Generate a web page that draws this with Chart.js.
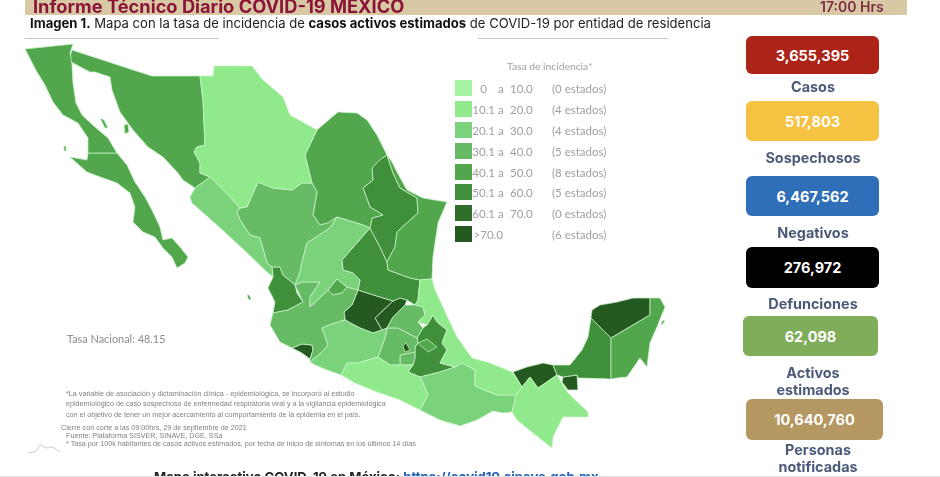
<!DOCTYPE html>
<html lang="es">
<head>
<meta charset="utf-8">
<title>Informe Técnico Diario COVID-19 MEXICO</title>
<script src="https://cdn.jsdelivr.net/npm/chart.js@4"></script>
<style>
  html, body { margin: 0; padding: 0; background: #fff; overflow: hidden; }
  #page { position: relative; width: 940px; height: 477px; overflow: hidden; font-family: Inter, sans-serif; }
  #mapa { position: absolute; left: 0; top: 0; filter: blur(.3px); }
  #page > div, #page > span { position: absolute; white-space: nowrap; }
  .band { left: 25px; top: 0; width: 882px; height: 15px; background: #d9c8a4; }
  .rule { top: 38px; height: 1px; background: #c6c6c6; }
  .card { border-radius: 6px; color: #fff; font-weight: 700; font-size: 14.5px; text-align: center; display: flex; align-items: center; justify-content: center; }
  .label { color: #4b5a78; font-weight: 700; font-size: 14.4px; text-align: center; transform: translate(-50%, -50%); }
  .ley { color: #a0a0a0; font-family: Lato, sans-serif; font-size: 11.5px; transform: translateY(-50%); filter: blur(.35px); }
  .nota { color: #808080; font-family: "Liberation Sans", sans-serif; font-size: 7.2px; transform: translateY(-50%); filter: blur(.35px); }
</style>
</head>
<body>
<div id="page">
  <canvas id="mapa" width="940" height="477"></canvas>
</div>
<script>
// tasa de incidencia, clases de la leyenda
const rangoDesde = ['0', '10.1', '20.1', '30.1', '40.1', '50.1', '60.1', '>70.0'];
const rangoHasta = ['10.0', '20.0', '30.0', '40.0', '50.0', '60.0', '70.0', ''];
const rangoEstados = ['(0 estados)', '(4 estados)', '(4 estados)', '(5 estados)', '(8 estados)', '(5 estados)', '(0 estados)', '(6 estados)'];
const rangoColor = ['#a6f4a1', '#90ea8c', '#7ad27b', '#66bb64', '#52a74d', '#408f3a', '#2f6f29', '#245a1f'];

// tarjetas
const tarjetaValor = ['3,655,395', '517,803', '6,467,562', '276,972', '62,098', '10,640,760'];
const tarjetaNombre = ['Casos', 'Sospechosos', 'Negativos', 'Defunciones', 'Activos\nestimados', 'Personas\nnotificadas'];
const tarjetaColor = ['#ad2317', '#f5c242', '#2f6eb8', '#000000', '#7fad5a', '#b59762'];

// contornos de los estados, en unidades de los ejes del mapa
const bajaCalifornia = [[25,49],[73,44],[70,53],[72,64],[73,83],[76,103],[82,115],[95,127],[108,138],[117,153],[88,153],[88,138],[78,123],[63,115],[53,102],[45,85],[37,72],[25,49]];
const bajaCaliforniaSur = [[117,153],[127,165],[135,182],[145,197],[152,210],[160,227],[163,240],[172,238],[180,247],[188,257],[185,263],[177,268],[172,257],[163,248],[155,237],[143,232],[133,222],[135,207],[130,193],[117,183],[103,178],[87,172],[70,157],[87,160],[88,153],[117,153]];
const sonora = [[72,50],[152,76],[200,76],[203,100],[205,145],[197,147],[194,152],[200,163],[200,173],[210,177],[195,188],[183,180],[178,173],[163,157],[148,147],[133,130],[120,112],[112,90],[110,77],[95,72],[90,72],[73,63],[69,60],[72,50]];
const chihuahua = [[200,76],[213,76],[214,66],[252,66],[263,80],[283,97],[290,115],[317,130],[305,155],[312,183],[302,183],[292,190],[273,188],[258,182],[247,207],[240,208],[230,197],[218,185],[210,177],[200,173],[200,163],[194,152],[197,147],[205,145],[203,100],[200,76]];
const coahuila = [[305,155],[317,130],[338,112],[357,113],[367,120],[377,135],[387,155],[382,158],[372,168],[373,180],[363,188],[370,207],[383,215],[372,218],[370,228],[363,225],[337,217],[328,223],[320,225],[313,215],[317,192],[312,183],[305,155]];
const nuevoLeon = [[387,155],[393,173],[400,188],[417,198],[418,213],[397,232],[395,247],[387,262],[380,247],[372,232],[370,228],[372,218],[383,215],[370,207],[363,188],[373,180],[372,168],[382,158],[387,155]];
const tamaulipas = [[387,155],[392,162],[397,172],[407,190],[423,198],[447,202],[438,223],[433,257],[432,279],[420,280],[410,278],[388,270],[387,262],[395,247],[397,232],[418,213],[417,198],[400,188],[393,173],[387,155]];
const sinaloa = [[210,177],[218,185],[230,197],[240,208],[237,212],[240,220],[250,235],[260,238],[267,263],[272,267],[273,277],[267,272],[243,249],[217,225],[200,210],[192,203],[190,197],[195,188],[210,177]];
const durango = [[237,212],[240,208],[247,207],[258,182],[273,188],[292,190],[302,183],[312,183],[317,192],[313,215],[320,225],[328,223],[337,217],[330,228],[307,243],[302,262],[300,272],[295,285],[283,275],[280,267],[272,267],[267,263],[260,238],[250,235],[240,220],[237,212]];
const zacatecas = [[302,262],[307,243],[330,228],[337,217],[363,225],[370,228],[342,260],[343,270],[353,273],[360,280],[358,290],[347,287],[337,279],[328,290],[310,307],[310,297],[320,282],[302,282],[295,285],[300,272],[302,262]];
const sanLuisPotosi = [[370,228],[372,232],[380,247],[387,262],[388,270],[410,278],[420,280],[418,300],[415,305],[407,300],[400,298],[393,301],[380,297],[358,290],[360,280],[353,273],[343,270],[342,260],[370,228]];
const nayarit = [[272,267],[280,267],[283,275],[295,285],[297,293],[303,302],[288,310],[273,313],[275,302],[268,288],[273,277],[272,267]];
const jalisco = [[270,325],[273,313],[288,310],[303,302],[295,285],[302,282],[320,282],[310,297],[310,307],[328,290],[333,295],[342,293],[347,287],[358,290],[352,305],[344,312],[345,320],[332,324],[322,328],[328,345],[322,352],[310,362],[310,359],[313,350],[312,345],[302,344],[292,348],[280,342],[270,325]];
const colima = [[292,348],[302,344],[312,345],[313,350],[310,359],[302,353],[292,348]];
const aguascalientes = [[328,290],[337,279],[347,287],[342,293],[333,295],[328,290]];
const michoacan = [[310,362],[322,352],[328,345],[322,328],[332,324],[345,320],[360,328],[373,333],[382,330],[387,328],[385,338],[378,357],[358,363],[347,363],[341,375],[327,370],[315,365],[310,362]];
const guanajuato = [[358,290],[380,297],[393,301],[375,318],[382,330],[373,333],[360,328],[345,320],[344,312],[352,305],[358,290]];
const queretaro = [[393,301],[400,298],[407,300],[405,305],[393,317],[387,328],[382,330],[375,318],[393,301]];
const hidalgo = [[393,317],[405,305],[415,305],[423,307],[425,315],[418,322],[423,328],[417,338],[398,328],[387,328],[393,317]];
const estadoMexico = [[387,328],[398,328],[417,338],[418,343],[415,347],[415,352],[410,353],[400,355],[400,365],[390,365],[378,357],[385,338],[387,328]];
const cdmx = [[403,346],[406,343],[410,350],[405,352],[403,346]];
const morelos = [[400,355],[410,353],[415,352],[415,358],[413,365],[400,365],[400,355]];
const tlaxcala = [[418,343],[427,339],[437,347],[428,352],[418,343]];
const puebla = [[417,338],[423,328],[427,325],[433,315],[437,322],[447,330],[442,343],[447,350],[440,363],[455,367],[440,372],[420,377],[408,372],[413,365],[415,358],[415,347],[418,343],[417,338]];
const veracruz = [[420,280],[432,279],[435,290],[443,307],[457,337],[472,358],[490,363],[512,372],[522,387],[516,395],[497,395],[475,386],[475,370],[462,363],[455,367],[440,363],[447,350],[442,343],[447,330],[437,322],[433,315],[427,325],[418,322],[425,315],[423,307],[415,305],[418,300],[420,280]];
const oaxaca = [[420,377],[423,383],[428,395],[420,410],[440,420],[460,426],[477,420],[493,411],[503,413],[512,412],[516,395],[497,395],[475,386],[475,370],[462,363],[455,367],[440,372],[420,377]];
const guerrero = [[341,375],[347,363],[358,363],[378,357],[390,365],[400,365],[413,365],[408,372],[420,377],[423,383],[428,395],[420,410],[400,400],[377,392],[355,383],[341,375]];
const chiapas = [[516,395],[522,387],[530,377],[538,388],[557,375],[568,393],[588,412],[588,417],[563,417],[553,437],[552,448],[533,433],[517,420],[512,412],[516,395]];
const tabasco = [[513,372],[527,367],[543,363],[553,365],[557,375],[538,388],[530,377],[522,387],[513,372]];
const tabascoEste = [[563,377],[577,375],[578,390],[568,390],[562,382],[563,377]];
const campeche = [[591,318],[611,338],[611,379],[578,378],[577,375],[563,377],[557,375],[553,365],[570,365],[582,350],[588,337],[591,318]];
const yucatan = [[591,318],[592,310],[600,305],[617,302],[633,298],[650,298],[650,315],[611,338],[591,318]];
const quintanaRoo = [[611,338],[650,315],[650,298],[660,298],[665,307],[657,327],[650,343],[647,367],[640,358],[627,377],[617,378],[611,379],[611,338]];
// islas
const islaTiburon = [[124,125],[128,124],[129,132],[125,134],[124,125]];
const islaAngel = [[100,118],[104,120],[108,128],[105,128],[100,118]];
const islaCedros = [[64,146],[66,146],[66,151],[64,151],[64,146]];
const cozumel = [[663,320],[665,321],[662,325],[661,324],[663,320]];
const revillagigedo = [[247,295],[249,295],[251,299],[249,300],[247,295]];
// trazo del logotipo junto a las notas
const logoTrazo = [[28,453],[36,451],[40,445],[47,448],[52,447],[60,452]];

// el primer dataset queda encima, por eso cdmx y tlaxcala van al principio
const estados = [
  [cdmx, 7], [tlaxcala, 4],
  [chihuahua, 1], [veracruz, 1], [guerrero, 1], [chiapas, 1],
  [sinaloa, 2], [zacatecas, 2], [michoacan, 2], [oaxaca, 2],
  [durango, 3], [jalisco, 3], [hidalgo, 3], [estadoMexico, 3], [morelos, 3],
  [bajaCalifornia, 4], [bajaCaliforniaSur, 4], [sonora, 4], [coahuila, 4], [tamaulipas, 4], [quintanaRoo, 4], [aguascalientes, 4],
  [nuevoLeon, 5], [sanLuisPotosi, 5], [nayarit, 5], [puebla, 5], [campeche, 5],
  [guanajuato, 7], [queretaro, 7], [colima, 7], [tabasco, 7], [tabascoEste, 7], [yucatan, 7],
  [islaTiburon, 4], [islaAngel, 4], [islaCedros, 4], [cozumel, 4], [revillagigedo, 5]
];

const datasets = estados.map(([contorno, clase]) => ({
  data: contorno.map(p => ({ x: p[0], y: p[1] })),
  showLine: true,
  fill: 'shape',
  tension: 0.0001,
  pointRadius: 0,
  borderWidth: 0.9,
  borderColor: 'rgba(205,245,205,0.85)',
  backgroundColor: rangoColor[clase]
}));
datasets.push({
  data: logoTrazo.map(p => ({ x: p[0], y: p[1] })),
  showLine: true,
  fill: false,
  tension: 0.3,
  pointRadius: 0,
  borderWidth: 1,
  borderColor: '#c8c8c8'
});

new Chart(document.getElementById('mapa'), {
  type: 'scatter',
  data: { datasets },
  options: {
    responsive: false,
    animation: false,
    layout: { padding: 0 },
    scales: {
      x: { type: 'linear', min: 0, max: 940, display: false },
      y: { type: 'linear', min: 0, max: 477, reverse: true, display: false }
    },
    plugins: { legend: { display: false }, tooltip: { enabled: false } }
  }
});

// textos y tarjetas alrededor del mapa
const page = document.getElementById('page');
function add(cls, css, html) {
  const el = document.createElement('div');
  el.className = cls;
  el.style.cssText = css;
  el.innerHTML = html;
  page.appendChild(el);
  return el;
}

add('band', '', '');
add('', 'left:33px;top:-5px;font-size:18.25px;font-weight:700;color:#8a1538', 'Informe Técnico Diario COVID-19 MEXICO');
add('', 'left:820px;top:-2px;font-size:14px;font-weight:600;color:#7d2b43', '17:00 Hrs');
add('', 'left:30px;top:15px;font-size:13.1px;color:#222', '<b style="color:#111">Imagen 1.</b> Mapa con la tasa de incidencia de <b style="color:#111">casos activos estimados</b> de COVID-19 por entidad de residencia');
add('rule', 'left:25px;width:194px', '');
add('rule', 'left:478px;width:190px', '');

// leyenda
const leyendaY = [88, 109, 130, 150.5, 171.5, 192, 213, 234];
const desdeDerecha = [487, 495, 495, 495, 495, 495, 495, 503];
add('ley', 'left:507px;top:66px;font-size:10.3px', 'Tasa de incidencia*');
rangoDesde.forEach((desde, i) => {
  add('', `left:455px;top:${leyendaY[i] - 8}px;width:17px;height:16px;background:${rangoColor[i]}`, '');
  add('ley', `right:${940 - desdeDerecha[i]}px;top:${leyendaY[i]}px`, desde.replace('>', '&gt;'));
  if (rangoHasta[i]) {
    add('ley', `left:498px;top:${leyendaY[i]}px`, 'a');
    add('ley', `left:510px;top:${leyendaY[i]}px`, rangoHasta[i]);
  }
  add('ley', `left:552px;top:${leyendaY[i]}px`, rangoEstados[i]);
});

// notas
add('ley', 'left:67px;top:338px;font-size:10.9px;color:#8c8c8c', 'Tasa Nacional: 48.15');
add('nota', 'left:66px;top:393px', '*La variable de asociación y dictaminación clínica - epidemiológica, se incorporó al estudio');
add('nota', 'left:66px;top:403px', 'epidemiológico de caso sospechoso de enfermedad respiratoria viral y a la vigilancia epidemiológica');
add('nota', 'left:66px;top:414px', 'con el objetivo de tener un mejor acercamiento al comportamiento de la epidemia en el país.');
add('nota', 'left:61px;top:427px', 'Cierre con corte a las 09:00hrs, 29 de septiembre de 2021');
add('nota', 'left:66px;top:435px', 'Fuente: Plataforma SISVER, SINAVE, DGE, SSa');
add('nota', 'left:66px;top:443px', '* Tasa por 100k habitantes de casos activos estimados, por fecha de inicio de síntomas en los últimos 14 días');

// tarjetas
const cajaX = [746, 746, 746, 746, 743, 746];
const cajaAncho = [133, 133, 133, 133, 135, 137];
const cajaY = [36, 101, 176, 247, 316, 399];
const cajaAlto = [38, 40, 40, 41, 40, 41];
const rotuloY = [86, 157, 232, 303, 372, 449];
tarjetaValor.forEach((valor, i) => {
  add('card', `left:${cajaX[i]}px;top:${cajaY[i]}px;width:${cajaAncho[i]}px;height:${cajaAlto[i]}px;background:${tarjetaColor[i]}`, valor);
  tarjetaNombre[i].split('\n').forEach((linea, j) => {
    const cx = i === 5 ? 818 : 813;
    add('label', `left:${cx}px;top:${rotuloY[i] + j * 17}px`, linea);
  });
});

// pie
add('', 'left:154px;top:469px;font-size:13.1px;font-weight:700;color:#222', 'Mapa interactivo COVID-19 en México: <span style="color:#1f5fbf">https://covid19.sinave.gob.mx</span>');
add('', 'left:0;top:476px;width:940px;height:1px;background:#e4e4e4', '');
</script>
</body>
</html>
